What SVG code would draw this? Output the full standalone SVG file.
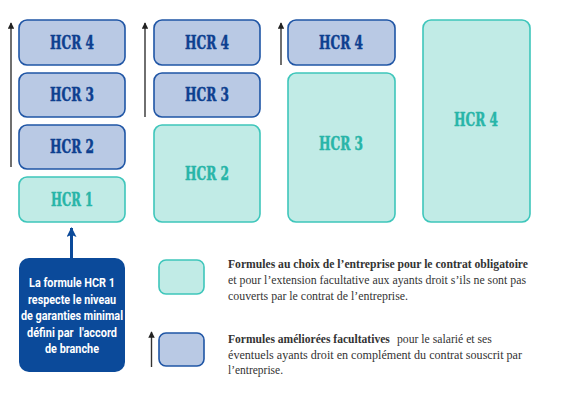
<svg xmlns="http://www.w3.org/2000/svg" width="569" height="411" viewBox="0 0 569 411">
<defs>
<marker id="ah" viewBox="0 0 10 10" refX="9" refY="5" markerWidth="6.5" markerHeight="6.5" orient="auto" markerUnits="userSpaceOnUse">
<path d="M0,0 L10,5 L0,10 Z" fill="#222"/>
</marker>
<marker id="ahb" viewBox="0 0 10 10" refX="9" refY="5" markerWidth="14" markerHeight="10" orient="auto" markerUnits="userSpaceOnUse">
<path d="M0,0 L10,5 L0,10 L2,5 Z" fill="#0b4a9a"/>
</marker>
<style>
.teal{fill:#c1ebe6;stroke:#3ec6bb;stroke-width:1.6}
.blue{fill:#b9c9e4;stroke:#1f55a5;stroke-width:1.6}
.tt{font-family:"DejaVu Serif",serif;font-weight:bold;font-size:18px;fill:#28b5a8;stroke:#28b5a8;stroke-width:0.5;text-anchor:middle}
.bt{font-family:"DejaVu Serif",serif;font-weight:bold;font-size:18px;fill:#0d3f8f;stroke:#0d3f8f;stroke-width:0.5;text-anchor:middle}
.ar{stroke:#333;stroke-width:1.4;fill:none}
.wt{font-family:Roboto,"Liberation Sans",sans-serif;font-weight:bold;font-size:13px;fill:#fff;text-anchor:middle}
.lg{font-family:"Liberation Serif",serif;font-size:13px;fill:#333}
.lgb{font-weight:bold}
</style>
</defs>
<rect width="569" height="411" fill="#fff"/>
<g id="col1">
<g id="c1-hcr4"><rect class="blue" x="19" y="20" width="106" height="45" rx="8"/><text class="bt" x="72" y="49" textLength="44" lengthAdjust="spacingAndGlyphs">HCR 4</text></g>
<g id="c1-hcr3"><rect class="blue" x="19" y="73" width="106" height="44" rx="8"/><text class="bt" x="72" y="101" textLength="44" lengthAdjust="spacingAndGlyphs">HCR 3</text></g>
<g id="c1-hcr2"><rect class="blue" x="19" y="125" width="106" height="44" rx="8"/><text class="bt" x="72" y="153" textLength="44" lengthAdjust="spacingAndGlyphs">HCR 2</text></g>
<g id="c1-hcr1"><rect class="teal" x="19" y="177" width="106" height="45" rx="8"/><text class="tt" x="72" y="206" textLength="42" lengthAdjust="spacingAndGlyphs">HCR 1</text></g>
</g>
<g id="col2">
<g id="c2-hcr4"><rect class="blue" x="154" y="20" width="106" height="45" rx="8"/><text class="bt" x="207" y="49" textLength="44" lengthAdjust="spacingAndGlyphs">HCR 4</text></g>
<g id="c2-hcr3"><rect class="blue" x="154" y="73" width="106" height="44" rx="8"/><text class="bt" x="207" y="101" textLength="44" lengthAdjust="spacingAndGlyphs">HCR 3</text></g>
<g id="c2-hcr2"><rect class="teal" x="154" y="125" width="106" height="97" rx="8"/><text class="tt" x="207" y="180" textLength="44" lengthAdjust="spacingAndGlyphs">HCR 2</text></g>
</g>
<g id="col3">
<g id="c3-hcr4"><rect class="blue" x="288" y="20" width="107" height="45" rx="8"/><text class="bt" x="341" y="49" textLength="44" lengthAdjust="spacingAndGlyphs">HCR 4</text></g>
<g id="c3-hcr3"><rect class="teal" x="288" y="73" width="107" height="149" rx="8"/><text class="tt" x="341" y="150" textLength="44" lengthAdjust="spacingAndGlyphs">HCR 3</text></g>
</g>
<g id="col4">
<g id="c4-hcr4"><rect class="teal" x="423" y="20" width="107" height="202" rx="8"/><text class="tt" x="476" y="126" textLength="44" lengthAdjust="spacingAndGlyphs">HCR 4</text></g>
</g>
<g id="note">
<rect x="19" y="258" width="106" height="114" rx="10" fill="#0b4a9a"/>
<text class="wt" x="72" y="287" textLength="86" lengthAdjust="spacingAndGlyphs">La formule HCR 1</text>
<text class="wt" x="72" y="303.5" textLength="88" lengthAdjust="spacingAndGlyphs">respecte le niveau</text>
<text class="wt" x="72" y="320" textLength="102" lengthAdjust="spacingAndGlyphs">de garanties minimal</text>
<text class="wt" x="72" y="337" textLength="90" lengthAdjust="spacingAndGlyphs" xml:space="preserve">défini par  l'accord</text>
<text class="wt" x="72" y="353" textLength="54" lengthAdjust="spacingAndGlyphs">de branche</text>
</g>
<g id="legend">
<g id="leg-teal">
<rect class="teal" x="159" y="260" width="45" height="34" rx="7"/>
<text class="lg lgb" x="228" y="268" textLength="300" lengthAdjust="spacingAndGlyphs">Formules au choix de l’entreprise pour le contrat obligatoire</text>
<text class="lg" x="228" y="284" textLength="298" lengthAdjust="spacingAndGlyphs">et pour l’extension facultative aux ayants droit s’ils ne sont pas</text>
<text class="lg" x="228" y="300" textLength="180" lengthAdjust="spacingAndGlyphs">couverts par le contrat de l’entreprise.</text>
</g>
<g id="leg-blue">
<rect class="blue" x="159" y="333" width="45" height="33" rx="7"/>
<text class="lg lgb" transform="translate(228,343) scale(0.89,1)" x="0" y="0">Formules améliorées facultatives</text>
<text class="lg" transform="translate(397,343) scale(0.9,1)" x="0" y="0">pour le salarié et ses</text>
<text class="lg" x="228" y="359" textLength="294" lengthAdjust="spacingAndGlyphs">éventuels ayants droit en complément du contrat souscrit par</text>
<text class="lg" x="228" y="374" textLength="55" lengthAdjust="spacingAndGlyphs">l’entreprise.</text>
</g>
</g>
<g id="connectors">
<line class="ar" x1="11" y1="167" x2="11" y2="23" marker-end="url(#ah)"/>
<line class="ar" x1="145" y1="117" x2="145" y2="23" marker-end="url(#ah)"/>
<line class="ar" x1="281" y1="65" x2="281" y2="23" marker-end="url(#ah)"/>
<line class="ar" x1="151.5" y1="367" x2="151.5" y2="332" marker-end="url(#ah)"/>
<line x1="71.5" y1="258" x2="71.5" y2="228" stroke="#0b4a9a" stroke-width="3" marker-end="url(#ahb)"/>
</g>
</svg>
